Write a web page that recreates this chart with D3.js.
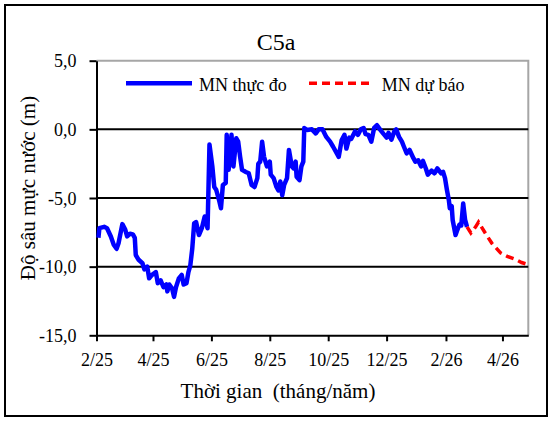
<!DOCTYPE html>
<html>
<head>
<meta charset="utf-8">
<script src="https://cdn.jsdelivr.net/npm/d3@7"></script>
<style>
  body { margin: 0; background: #fff; }
  svg { display: block; }
  svg text { font-family: "Liberation Serif", "Tinos", "Times New Roman", "DejaVu Serif", serif !important; fill: #000; }
</style>
</head>
<body>
<svg id="chart" width="552" height="421"></svg>
<script>
// Observed water level depth (MN thực đo)
const obsDates = [
  '2025-02-03','2025-02-04','2025-02-09','2025-02-12','2025-02-16','2025-02-19','2025-02-22','2025-02-24','2025-02-28','2025-03-03',
  '2025-03-05','2025-03-08','2025-03-11','2025-03-13','2025-03-14','2025-03-17','2025-03-21','2025-03-23','2025-03-26','2025-03-28',
  '2025-03-31','2025-04-04','2025-04-06','2025-04-09','2025-04-12','2025-04-15','2025-04-16','2025-04-18','2025-04-21','2025-04-23',
  '2025-04-25','2025-04-28','2025-05-01','2025-05-03','2025-05-06','2025-05-08','2025-05-10','2025-05-12','2025-05-14','2025-05-16',
  '2025-05-19','2025-05-22','2025-05-25','2025-05-28','2025-05-30','2025-06-02','2025-06-04','2025-06-06','2025-06-09','2025-06-11',
  '2025-06-13','2025-06-16','2025-06-17','2025-06-19','2025-06-22','2025-06-24','2025-06-27','2025-06-29','2025-07-01','2025-07-03',
  '2025-07-07','2025-07-10','2025-07-13','2025-07-16','2025-07-19','2025-07-20','2025-07-22','2025-07-24','2025-07-26','2025-07-29',
  '2025-08-01','2025-08-02','2025-08-05','2025-08-08','2025-08-10','2025-08-12','2025-08-14','2025-08-16','2025-08-19','2025-08-21',
  '2025-08-24','2025-08-26','2025-08-28','2025-08-29','2025-09-01','2025-09-03','2025-09-05','2025-09-06','2025-09-09','2025-09-14',
  '2025-09-18','2025-09-21','2025-09-25','2025-09-29','2025-10-03','2025-10-06','2025-10-10','2025-10-12','2025-10-15','2025-10-18',
  '2025-10-20','2025-10-23','2025-10-25','2025-10-29','2025-11-01','2025-11-04','2025-11-07','2025-11-09','2025-11-12','2025-11-15',
  '2025-11-18','2025-11-21','2025-11-24','2025-11-28','2025-12-01','2025-12-03','2025-12-06','2025-12-09','2025-12-11','2025-12-14',
  '2025-12-17','2025-12-19','2025-12-22','2025-12-25','2025-12-29','2025-12-31','2026-01-03','2026-01-06','2026-01-08','2026-01-11',
  '2026-01-13','2026-01-17','2026-01-20','2026-01-23','2026-01-27','2026-01-29','2026-01-31','2026-02-02','2026-02-04','2026-02-05',
  '2026-02-07','2026-02-08','2026-02-11','2026-02-13','2026-02-15','2026-02-17','2026-02-19','2026-02-21','2026-02-23'
];
const obsValues = [
  -7.9, -7.2, -7.1, -7.2, -7.8, -8.4, -8.7, -8.3, -6.9, -7.3,
  -7.8, -7.6, -7.65, -7.9, -9.15, -9.5, -9.75, -10.2, -10.0, -10.85,
  -10.6, -10.4, -11.2, -11.0, -11.5, -11.3, -11.8, -11.3, -11.6, -12.2,
  -11.5, -10.85, -10.6, -11.3, -11.2, -10.4, -9.9, -8.7, -6.85, -6.75,
  -7.7, -7.2, -6.35, -7.2, -1.1, -2.7, -4.2, -4.4, -5.15, -5.75,
  -4.05, -3.9, -0.4, -2.95, -0.4, -2.7, -0.65, -0.9, -2.0, -2.95,
  -3.1, -3.2, -4.05, -4.2, -3.55, -2.5, -2.35, -0.9, -2.0, -2.7,
  -2.35, -3.3, -3.55, -4.2, -4.45, -3.8, -4.8, -4.05, -3.55, -1.5,
  -2.7, -2.85, -2.35, -3.45, -3.7, -2.7, -2.35, 0.1, -0.05, 0.0,
  -0.3, 0.0, 0.0, -0.55, -0.9, -1.25, -1.75, -2.0, -0.8, -0.4,
  -1.4, -0.6, -0.7, -0.15, -0.4, 0.0, 0.1, -0.35, -0.4, -0.9,
  0.1, 0.3, 0.0, -0.35, -0.6, -0.25, -0.75, -0.15, 0.0, -0.55,
  -0.9, -1.25, -1.75, -1.5, -2.1, -2.35, -2.25, -2.7, -2.3, -2.85,
  -3.3, -3.0, -3.2, -2.85, -3.2, -3.1, -3.55, -4.4, -5.15, -5.75,
  -5.6, -6.6, -7.7, -7.3, -6.95, -7.0, -5.4, -6.6, -7.1
];

// Forecast (MN dự báo)
const fcDates = ['2026-02-23','2026-02-27','2026-03-04','2026-03-07','2026-03-14','2026-03-21','2026-03-30','2026-04-06','2026-04-14','2026-04-21','2026-04-28'];
const fcValues = [-7.1, -7.55, -7.1, -6.75, -7.55, -8.3, -9.0, -9.25, -9.45, -9.7, -9.85];

const xTickDates = ['2025-02-01','2025-04-01','2025-06-01','2025-08-01','2025-10-01','2025-12-01','2026-02-01','2026-04-01'];
const yTickValues = [5, 0, -5, -10, -15];
const gridValues = [0, -5, -10];

const FONT = '"Liberation Serif", "Tinos", "Times New Roman", "DejaVu Serif", serif';

const parse = d3.timeParse('%Y-%m-%d');
const obs = obsDates.map((d, i) => ({ date: parse(d), value: obsValues[i] }));
const fc = fcDates.map((d, i) => ({ date: parse(d), value: fcValues[i] }));

const plot = { left: 96.5, right: 528.3, top: 60.7, bottom: 335.3 };

const svg = d3.select('#chart');

// Scales
const x = d3.scaleTime()
  .domain([parse('2025-02-01'), parse('2026-04-28')])
  .range([plot.left, plot.right]);

const y = d3.scaleLinear()
  .domain([-15, 5])
  .range([plot.bottom, plot.top]);

const vn = d3.formatLocale({ decimal: ',', thousands: '.', grouping: [3], currency: ['', ''], minus: '-' });
const yFmt = vn.format('.1f');
const xFmt = d3.timeFormat('%-m/%y');

// Outer frame
svg.append('rect')
  .attr('x', 5).attr('y', 5)
  .attr('width', 542).attr('height', 411)
  .attr('fill', 'none')
  .attr('stroke', '#000')
  .attr('stroke-width', 2);

// Plot area border (top + right, gray)
svg.append('path')
  .attr('d', `M${plot.left},${plot.top}H${plot.right}V${plot.bottom}`)
  .attr('fill', 'none')
  .attr('stroke', '#a6a6a6')
  .attr('stroke-width', 2);

// Gridlines
svg.append('g')
  .selectAll('line')
  .data(gridValues)
  .enter()
  .append('line')
  .attr('x1', plot.left).attr('x2', plot.right)
  .attr('y1', d => y(d)).attr('y2', d => y(d))
  .attr('stroke', '#000')
  .attr('stroke-width', 2);

// Y axis
const yAxis = svg.append('g')
  .attr('transform', `translate(${plot.left},0)`)
  .call(d3.axisLeft(y).tickValues(yTickValues).tickFormat(yFmt).tickSizeInner(7).tickSizeOuter(0).tickPadding(13));
yAxis.attr('font-family', FONT);
yAxis.select('.domain').attr('stroke', '#000').attr('stroke-width', 2);
yAxis.selectAll('.tick line').attr('stroke', '#000').attr('stroke-width', 2);
yAxis.selectAll('.tick text')
  .attr('font-size', 18)
  .attr('font-family', FONT)
  .attr('dy', '0.34em');

// X axis
const xAxis = svg.append('g')
  .attr('transform', `translate(0,${plot.bottom})`)
  .call(d3.axisBottom(x).tickValues(xTickDates.map(parse)).tickFormat(xFmt).tickSizeInner(6).tickSizeOuter(0).tickPadding(12));
xAxis.attr('font-family', FONT);
xAxis.select('.domain').attr('stroke', '#000').attr('stroke-width', 2);
xAxis.selectAll('.tick line').attr('stroke', '#000').attr('stroke-width', 2);
xAxis.selectAll('.tick text')
  .attr('font-size', 18)
  .attr('font-family', FONT)
  .attr('y', 31)
  .attr('dy', 0);

// Lines
const line = d3.line()
  .x(d => x(d.date))
  .y(d => y(d.value));

svg.append('path')
  .datum(obs)
  .attr('fill', 'none')
  .attr('stroke', '#0000ff')
  .attr('stroke-width', 4.5)
  .attr('stroke-linejoin', 'round')
  .attr('d', line);

svg.append('path')
  .datum(fc)
  .attr('fill', 'none')
  .attr('stroke', '#ff0000')
  .attr('stroke-width', 3.5)
  .attr('stroke-dasharray', '8,5')
  .attr('d', line);

// Title
svg.append('text')
  .attr('x', 276).attr('y', 50)
  .attr('text-anchor', 'middle')
  .attr('font-family', FONT)
  .attr('font-size', 24)
  .text('C5a');

// Axis titles
svg.append('text')
  .attr('x', 278).attr('y', 398)
  .attr('text-anchor', 'middle')
  .attr('font-family', FONT)
  .attr('font-size', 21)
  .style('white-space', 'pre')
  .text('Thời gian  (tháng/năm)');

svg.append('text')
  .attr('transform', 'translate(35,188) rotate(-90)')
  .attr('text-anchor', 'middle')
  .attr('font-family', FONT)
  .attr('font-size', 21)
  .text('Độ sâu mực nước (m)');

// Legend
const legend = svg.append('g').attr('font-family', FONT);
legend.append('line')
  .attr('x1', 126).attr('x2', 192).attr('y1', 83.3).attr('y2', 83.3)
  .attr('stroke', '#0000ff').attr('stroke-width', 4.5);
legend.append('text')
  .attr('x', 199).attr('y', 91)
  .attr('font-size', 18)
  .text('MN thực đo');
legend.append('line')
  .attr('x1', 309).attr('x2', 374).attr('y1', 83.3).attr('y2', 83.3)
  .attr('stroke', '#ff0000').attr('stroke-width', 3.5)
  .attr('stroke-dasharray', '8,5');
legend.append('text')
  .attr('x', 381.7).attr('y', 91)
  .attr('font-size', 18)
  .text('MN dự báo');
</script>
</body>
</html>
